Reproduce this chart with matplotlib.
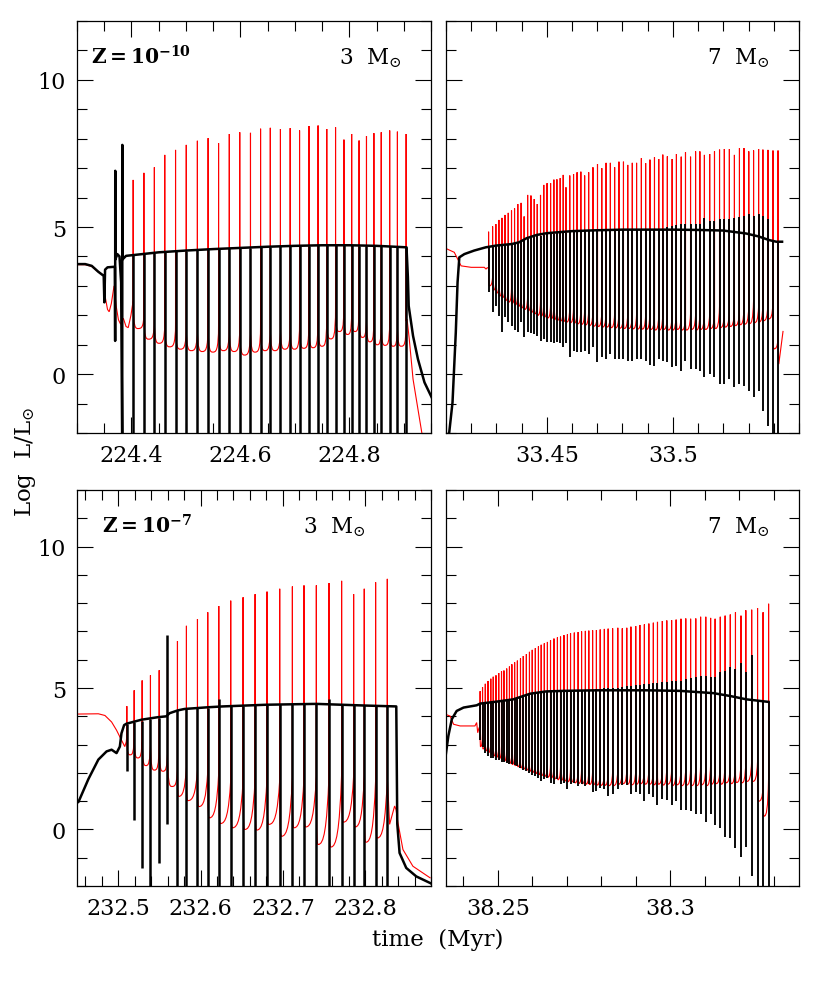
import matplotlib
matplotlib.use("Agg")
import matplotlib.pyplot as plt
from matplotlib.path import Path
from matplotlib.patches import PathPatch
from matplotlib.ticker import MultipleLocator, FormatStrFormatter

plt.rcParams["font.family"] = ["DejaVu Serif"]
plt.rcParams["mathtext.fontset"] = "dejavuserif"

# ---------------- Z=1e-10, 3 Msun (top left) ----------------
tl_t = [224.4031, 224.4228, 224.4420, 224.4611, 224.4809, 224.5006, 224.5210, 224.5407, 224.5599, 224.5796,
        224.5988, 224.6185, 224.6370, 224.6549, 224.6735, 224.6914, 224.7086, 224.7259, 224.7426, 224.7586,
        224.7747, 224.7901, 224.8043, 224.8179, 224.8315, 224.8451, 224.8586, 224.8741, 224.8883, 224.9043]
tl_he_peak = [6.60, 6.84, 7.03, 7.45, 7.62, 7.79, 7.93, 8.02, 7.85, 8.16,
              8.22, 8.20, 8.34, 8.37, 8.33, 8.36, 8.28, 8.43, 8.45, 8.33,
              8.39, 7.97, 8.16, 7.94, 8.09, 8.19, 8.22, 8.28, 8.24, 8.16]
tl_he_pre = [2.5, 2.1, 1.9, 1.8, 1.75, 1.7, 1.7, 1.7, 1.7, 1.7,
             1.7, 1.7, 1.7, 1.75, 1.75, 1.8, 1.8, 1.85, 1.9, 2.0,
             2.3, 2.4, 2.2, 2.35, 2.1, 1.9, 1.85, 1.85, 1.8, 1.8]
tl_he_trough = [1.55, 1.19, 1.05, 0.93, 0.85, 0.80, 0.77, 0.75, 0.80, 0.77,
                0.65, 0.75, 0.80, 0.80, 0.85, 0.85, 0.88, 0.90, 0.95, 1.20,
                1.45, 1.35, 1.45, 1.25, 1.10, 1.00, 0.98, 0.95, 0.95]
tl_h_top = [4.04, 4.09, 4.12, 4.15, 4.18, 4.20, 4.22, 4.24, 4.26, 4.27,
            4.29, 4.30, 4.32, 4.33, 4.34, 4.35, 4.36, 4.37, 4.38, 4.38,
            4.38, 4.38, 4.38, 4.37, 4.37, 4.36, 4.35, 4.34, 4.33, 4.31]
tl_h_dip = [-2.5, -2.5, -2.5, -2.5, -2.5, -2.5, -2.5, -2.5, -2.5, -2.5,
            -2.5, -2.5, -2.5, -2.5, -2.5, -2.5, -2.5, -2.5, -2.5, -2.5,
            -2.5, -2.5, -2.5, -2.5, -2.5, -2.5, -2.5, -2.5, -2.5, -2.5]
tl_he_head_t = [224.300, 224.315, 224.327, 224.339, 224.349, 224.352, 224.356, 224.359, 224.363,
                224.368, 224.372, 224.376, 224.380, 224.385, 224.390, 224.394, 224.399]
tl_he_head_v = [3.72, 3.72, 3.66, 3.48, 3.36, 2.6, 2.2, 2.12, 2.4, 3.0, 2.3, 1.85, 1.70, 1.9, 1.62, 1.58, 2.0]
tl_he_tail_t = [224.906, 224.910, 224.917, 224.926, 224.933, 224.937]
tl_he_tail_v = [1.87, 1.2, -0.17, -1.19, -1.98, -2.5]
tl_h_t = [224.300, 224.315, 224.327, 224.339, 224.349, 224.3502, 224.3515, 224.356, 224.3695, 224.3700,
          224.3702, 224.3705, 224.374, 224.378, 224.381, 224.3830, 224.3832, 224.3836, 224.390, 224.400,
          224.450, 224.500, 224.550, 224.600, 224.650, 224.700, 224.750, 224.800, 224.850, 224.9050,
          224.9075, 224.909, 224.917, 224.926, 224.938, 224.952]
tl_h_v = [3.74, 3.74, 3.68, 3.48, 3.34, 2.44, 3.55, 3.63, 3.65, 1.13,
          6.91, 3.90, 4.08, 4.00, 3.12, -2.5, 7.79, 3.90, 4.02, 4.04,
          4.14, 4.20, 4.25, 4.29, 4.33, 4.36, 4.38, 4.38, 4.36, 4.31,
          3.3, 2.32, 1.30, 0.51, -0.28, -0.82]

# ---------------- Z=1e-10, 7 Msun (top right) ----------------
tr_t = [33.4269, 33.4285, 33.4298, 33.4310, 33.4322, 33.4334, 33.4347, 33.4360, 33.4372, 33.4385,
        33.4398, 33.4410, 33.4424, 33.4437, 33.4450, 33.4462, 33.4475, 33.4488, 33.4501, 33.4515,
        33.4528, 33.4540, 33.4553, 33.4565, 33.4576, 33.4591, 33.4606, 33.4620, 33.4635, 33.4650,
        33.4666, 33.4683, 33.4701, 33.4718, 33.4735, 33.4752, 33.4769, 33.4786, 33.4804, 33.4821,
        33.4839, 33.4856, 33.4875, 33.4892, 33.4909, 33.4927, 33.4944, 33.4960, 33.4978, 33.4997,
        33.5014, 33.5033, 33.5050, 33.5070, 33.5090, 33.5107, 33.5125, 33.5146, 33.5165, 33.5185,
        33.5204, 33.5224, 33.5244, 33.5264, 33.5282, 33.5301, 33.5320, 33.5340, 33.5357, 33.5377,
        33.5397, 33.5417]
tr_he_peak = [4.84, 5.02, 5.10, 5.24, 5.31, 5.41, 5.48, 5.56, 5.63, 5.78,
              5.82, 5.36, 6.09, 6.07, 5.95, 5.78, 6.09, 6.43, 6.49, 6.49,
              6.61, 6.62, 6.66, 6.77, 6.35, 6.75, 6.80, 6.86, 6.88, 6.75,
              6.86, 7.03, 7.14, 7.00, 7.18, 7.18, 7.03, 7.22, 7.22, 7.11,
              7.18, 7.18, 7.34, 7.17, 7.29, 7.37, 7.31, 7.46, 7.40, 7.31,
              7.48, 7.39, 7.54, 7.39, 7.57, 7.57, 7.45, 7.48, 7.57, 7.63,
              7.65, 7.65, 7.45, 7.68, 7.68, 7.57, 7.60, 7.65, 7.63, 7.62,
              7.60, 7.60]
tr_he_pre = [3.6, 3.3, 3.2, 3.1, 3.05, 3.0, 2.95, 2.9, 2.85, 2.8,
             2.75, 2.7, 2.65, 2.6, 2.55, 2.5, 2.47, 2.44, 2.41, 2.38,
             2.35, 2.33, 2.31, 2.29, 2.27, 2.25, 2.23, 2.21, 2.19, 2.17,
             2.15, 2.13, 2.12, 2.1, 2.1, 2.08, 2.07, 2.06, 2.05, 2.05,
             2.04, 2.03, 2.03, 2.02, 2.1, 2.0, 2.0, 2.05, 2.0, 2.0,
             2.3, 2.0, 2.0, 2.05, 2.0, 2.05, 2.1, 2.05, 2.1, 2.3,
             2.1, 2.15, 2.2, 2.2, 2.25, 2.3, 2.5, 2.3, 2.4, 2.4,
             2.45, 1.2]
tr_he_trough = [3.0, 2.85, 2.75, 2.65, 2.6, 2.5, 2.45, 2.4, 2.35, 2.3,
                2.25, 2.2, 2.15, 2.1, 2.05, 2.0, 1.97, 1.94, 1.91, 1.88,
                1.85, 1.83, 1.81, 1.79, 1.77, 1.75, 1.73, 1.71, 1.69, 1.67,
                1.65, 1.63, 1.62, 1.6, 1.6, 1.58, 1.57, 1.56, 1.55, 1.55,
                1.54, 1.53, 1.53, 1.52, 1.52, 1.5, 1.5, 1.52, 1.5, 1.5,
                1.52, 1.5, 1.5, 1.52, 1.5, 1.52, 1.52, 1.55, 1.55, 1.58,
                1.6, 1.62, 1.65, 1.68, 1.7, 1.72, 1.75, 1.78, 1.82, 1.88,
                0.86]
tr_h_top = [4.34, 4.35, 4.36, 4.37, 4.38, 4.39, 4.40, 4.42, 4.44, 4.46,
            4.50, 4.55, 4.60, 4.63, 4.66, 4.69, 4.71, 4.73, 4.75, 4.76,
            4.77, 4.78, 4.79, 4.80, 4.81, 4.82, 4.83, 4.84, 4.85, 4.86,
            4.87, 4.88, 4.88, 4.89, 4.89, 4.90, 4.90, 4.90, 4.91, 4.91,
            4.91, 4.91, 4.91, 4.91, 4.91, 4.91, 4.91, 4.91, 4.99, 5.02,
            5.07, 5.10, 5.10, 5.10, 5.10, 5.10, 5.29, 5.22, 5.22, 5.27,
            5.27, 5.27, 5.29, 5.33, 5.39, 5.44, 5.39, 5.44, 5.36, 5.27,
            4.53, 4.48]
tr_h_dip = [2.78, 2.12, 2.32, 1.98, 1.42, 1.93, 1.76, 1.64, 1.51, 1.44,
            1.78, 1.25, 1.42, 1.39, 1.38, 1.30, 1.13, 1.19, 1.10, 1.08,
            1.05, 1.08, 1.05, 0.91, 1.05, 0.57, 0.79, 0.74, 0.74, 0.79,
            0.68, 0.91, 0.40, 0.57, 0.51, 0.68, 0.51, 0.51, 0.51, 0.45,
            0.45, 0.51, 0.51, 0.45, 0.31, 0.28, 0.51, 0.45, 0.40, 0.23,
            0.28, 0.11, 0.45, 0.17, 0.17, 0.11, -0.11, 0.0, -0.11, -0.34,
            -0.34, -0.17, -0.45, -0.34, -0.40, -0.57, -0.79, -0.57, -1.25, -1.76,
            -2.5, -2.5]
tr_he_head_t = [33.4100, 33.4133, 33.4153, 33.4160, 33.4200, 33.4252, 33.4259, 33.4264]
tr_he_head_v = [4.27, 4.14, 3.80, 3.68, 3.63, 3.63, 3.57, 3.62]
tr_he_tail_t = [33.5420, 33.5437]
tr_he_tail_v = [0.34, 1.47]
tr_h_t = [33.4105, 33.4113, 33.4126, 33.4139, 33.4146, 33.4153, 33.4173, 33.4212, 33.4258, 33.4300,
          33.4360, 33.4390, 33.4420, 33.4460, 33.4500, 33.4600, 33.4700, 33.4800, 33.4900, 33.5000,
          33.5100, 33.5200, 33.5290, 33.5340, 33.5380, 33.5410, 33.5433]
tr_h_v = [-2.1, -1.98, -0.96, 1.42, 3.12, 3.97, 4.08, 4.20, 4.31, 4.37,
          4.42, 4.48, 4.62, 4.73, 4.79, 4.86, 4.89, 4.91, 4.91, 4.91,
          4.90, 4.88, 4.78, 4.68, 4.56, 4.50, 4.50]

# ---------------- Z=1e-7, 3 Msun (bottom left) ----------------
bl_t = [232.5105, 232.5194, 232.5291, 232.5392, 232.5498, 232.5599, 232.5720, 232.5829, 232.5963, 232.6088,
        232.6222, 232.6367, 232.6517, 232.6663, 232.6808, 232.6962, 232.7116, 232.7257, 232.7407, 232.7561,
        232.7714, 232.7860, 232.7989, 232.8127, 232.8269]
bl_he_peak = [4.36, 4.92, 5.27, 5.45, 5.63, 6.0, 6.66, 7.20, 7.44, 7.68,
              7.90, 8.09, 8.21, 8.32, 8.41, 8.51, 8.59, 8.63, 8.63, 8.71,
              8.79, 8.32, 8.51, 8.74, 8.86]
bl_he_pre = [3.3, 3.5, 3.45, 3.35, 3.25, 3.0, 2.4, 2.2, 2.1, 2.05,
             2.05, 1.75, 1.75, 1.8, 1.85, 1.75, 1.85, 1.85, 1.9, 1.95,
             1.95, 1.9, 1.9, 1.75, 1.85]
bl_he_trough = [2.64, 2.53, 2.26, 2.10, 2.06, 1.52, 1.17, 1.02, 0.81, 0.41,
                0.21, 0.06, 0.0, -0.02, 0.18, -0.24, 0.06, 0.09, -0.53, -0.62,
                0.26, 0.09, -0.45, -0.30]
bl_h_top = [3.74, 3.80, 3.85, 3.90, 3.95, 6.87, 4.21, 4.26, 4.29, 4.31,
            4.62, 4.35, 4.38, 4.40, 4.41, 4.42, 4.43, 4.44, 4.44, 4.60,
            4.43, 4.41, 4.39, 4.37, 4.35]
bl_h_dip = [2.06, 0.33, -1.37, -2.5, -1.18, 0.21, -2.5, -2.5, -2.5, -2.5,
            -2.5, -2.5, -2.5, -2.5, -2.5, -2.5, -2.5, -2.5, -2.5, -2.5,
            -2.5, -2.5, -2.5, -2.5, -2.5]
bl_he_head_t = [232.4500, 232.4759, 232.4839, 232.4920, 232.4980, 232.5040, 232.5080, 232.5098]
bl_he_head_v = [4.08, 4.09, 4.03, 3.80, 3.51, 3.16, 2.93, 3.1]
bl_he_tail_t = [232.8297, 232.8358, 232.8375, 232.8398, 232.8459, 232.8580, 232.8794]
bl_he_tail_v = [0.18, 0.83, 0.7, 0.24, -0.71, -1.30, -1.72]
bl_h_t = [232.4500, 232.4517, 232.4638, 232.4759, 232.4859, 232.4920, 232.4980, 232.5020, 232.5040, 232.5072,
          232.5101, 232.5141, 232.5282, 232.5483, 232.5584, 232.5624, 232.5724, 232.5805, 232.6087, 232.6268,
          232.6800, 232.7407, 232.8014, 232.8378, 232.8390, 232.8418, 232.8499, 232.8621, 232.8794, 232.8800]
bl_h_v = [0.95, 0.97, 1.78, 2.47, 2.76, 2.82, 2.70, 2.93, 3.40, 3.69,
          3.74, 3.77, 3.88, 3.97, 4.00, 4.11, 4.21, 4.26, 4.32, 4.35,
          4.41, 4.44, 4.38, 4.35, 0.2, -0.83, -1.36, -1.66, -1.90, -1.91]

# ---------------- Z=1e-7, 7 Msun (bottom right) ----------------
br_t = [38.2449, 38.2456, 38.2464, 38.2472, 38.2480, 38.2487, 38.2495, 38.2503, 38.2511, 38.2518,
        38.2526, 38.2534, 38.2541, 38.2549, 38.2557, 38.2566, 38.2574, 38.2583, 38.2592, 38.2600,
        38.2609, 38.2618, 38.2626, 38.2635, 38.2644, 38.2653, 38.2663, 38.2673, 38.2682, 38.2692,
        38.2702, 38.2711, 38.2722, 38.2733, 38.2743, 38.2754, 38.2764, 38.2775, 38.2786, 38.2797,
        38.2809, 38.2820, 38.2833, 38.2848, 38.2861, 38.2874, 38.2886, 38.2900, 38.2912, 38.2925,
        38.2938, 38.2951, 38.2963, 38.2977, 38.2990, 38.3004, 38.3017, 38.3031, 38.3045, 38.3059,
        38.3074, 38.3088, 38.3103, 38.3117, 38.3130, 38.3145, 38.3159, 38.3174, 38.3189, 38.3205,
        38.3219, 38.3236, 38.3253, 38.3269, 38.3285]
br_he_peak = [4.89, 5.03, 5.15, 5.25, 5.33, 5.40, 5.45, 5.53, 5.59, 5.62,
              5.69, 5.76, 5.84, 5.91, 5.97, 6.05, 6.13, 6.20, 6.28, 6.35,
              6.41, 6.47, 6.53, 6.58, 6.63, 6.69, 6.75, 6.79, 6.82, 6.87,
              6.90, 6.94, 6.96, 6.98, 7.00, 7.02, 7.03, 7.04, 7.05, 7.07,
              7.09, 7.10, 7.11, 7.13, 7.11, 7.13, 7.17, 7.19, 7.23, 7.25,
              7.28, 7.31, 7.34, 7.37, 7.39, 7.40, 7.42, 7.45, 7.46, 7.45,
              7.46, 7.52, 7.52, 7.48, 7.45, 7.52, 7.56, 7.60, 7.68, 7.56,
              7.75, 7.77, 7.83, 7.68, 7.98]
br_he_pre = [3.6, 3.4, 3.3, 3.22, 3.15, 3.1, 3.05, 3.0, 2.95, 2.9,
             2.86, 2.82, 2.78, 2.74, 2.7, 2.66, 2.62, 2.58, 2.54, 2.5,
             2.46, 2.42, 2.39, 2.36, 2.33, 2.3, 2.27, 2.24, 2.21, 2.19,
             2.17, 2.15, 2.13, 2.11, 2.1, 2.08, 2.07, 2.06, 2.05, 2.05,
             2.04, 2.04, 2.04, 2.1, 2.15, 2.1, 2.2, 2.1, 2.15, 2.2,
             2.1, 2.15, 2.2, 2.1, 2.2, 2.1, 2.15, 2.1, 2.2, 2.15,
             2.2, 2.25, 2.2, 2.3, 2.2, 2.3, 2.35, 2.3, 2.4, 2.35,
             2.4, 2.45, 2.4, 1.5, 1.83]
br_he_trough = [2.93, 2.85, 2.78, 2.72, 2.66, 2.6, 2.55, 2.5, 2.46, 2.42,
                2.38, 2.34, 2.3, 2.26, 2.22, 2.18, 2.14, 2.1, 2.06, 2.02,
                1.98, 1.94, 1.91, 1.88, 1.85, 1.82, 1.79, 1.76, 1.73, 1.71,
                1.69, 1.67, 1.65, 1.63, 1.62, 1.6, 1.59, 1.58, 1.57, 1.56,
                1.56, 1.55, 1.55, 1.6, 1.62, 1.6, 1.58, 1.6, 1.62, 1.6,
                1.6, 1.58, 1.6, 1.57, 1.6, 1.55, 1.58, 1.55, 1.57, 1.55,
                1.55, 1.58, 1.55, 1.6, 1.62, 1.6, 1.65, 1.62, 1.66, 1.65,
                1.7, 1.7, 1.0, 0.47]
br_h_top = [4.45, 4.46, 4.47, 4.48, 4.49, 4.50, 4.51, 4.52, 4.53, 4.55,
            4.56, 4.57, 4.59, 4.62, 4.66, 4.70, 4.74, 4.77, 4.80, 4.82,
            4.84, 4.85, 4.86, 4.87, 4.88, 4.89, 4.89, 4.90, 4.90, 4.90,
            4.91, 4.91, 4.91, 4.91, 4.92, 4.92, 4.92, 4.92, 4.95, 4.98,
            5.00, 5.00, 5.00, 5.00, 5.02, 5.06, 5.06, 5.09, 5.11, 5.14,
            5.14, 5.17, 5.17, 5.21, 5.21, 5.25, 5.25, 5.25, 5.32, 5.35,
            5.40, 5.43, 5.43, 5.40, 5.40, 5.55, 5.60, 5.75, 5.68, 5.90,
            5.55, 6.16, 4.56, 4.53, 4.51]
br_h_dip = [3.16, 2.93, 2.69, 2.58, 2.52, 2.52, 2.46, 2.46, 2.40, 2.40,
            2.35, 2.33, 2.33, 2.29, 2.23, 2.17, 2.12, 2.06, 2.00, 1.94,
            1.89, 1.83, 1.71, 1.77, 1.83, 1.66, 1.60, 1.77, 1.60, 1.66,
            1.43, 1.60, 1.66, 1.54, 1.60, 1.54, 1.60, 1.31, 1.37, 1.48,
            1.43, 1.20, 1.25, 1.43, 1.56, 1.56, 1.25, 1.31, 1.25, 1.02,
            1.25, 1.14, 0.85, 1.08, 1.05, 0.85, 1.02, 0.68, 0.68, 0.64,
            0.56, 0.56, 0.27, 0.56, 0.16, 0.04, -0.25, -0.30, -0.67, -0.99,
            -0.63, -1.63, -2.5, -2.5, -2.5]
br_he_head_t = [38.2349, 38.2362, 38.2372, 38.2391, 38.2434, 38.2439, 38.2442, 38.2446]
br_he_head_v = [4.07, 4.01, 3.72, 3.66, 3.66, 3.78, 3.42, 3.6]
br_he_tail_t = []
br_he_tail_v = []
br_h_t = [38.2349, 38.2357, 38.2367, 38.2381, 38.2401, 38.2439, 38.2449, 38.2497, 38.2545, 38.2594,
          38.2640, 38.2690, 38.2787, 38.2931, 38.3028, 38.3125, 38.3173, 38.3221, 38.3285]
br_h_v = [2.60, 3.31, 3.90, 4.19, 4.31, 4.39, 4.45, 4.52, 4.60, 4.80,
          4.88, 4.90, 4.92, 4.92, 4.90, 4.82, 4.72, 4.60, 4.51]


def he_path(t, pre, peak, trough, head_t, head_v, tail_t, tail_v, frac, sharp):
    # He luminosity: spikes at the pulses, rounded troughs in between
    verts = list(zip(head_t, head_v))
    codes = [Path.MOVETO] + [Path.LINETO] * (len(verts) - 1)
    n = len(t)
    for i in range(n):
        verts += [(t[i], pre[i]), (t[i], peak[i]), (t[i], pre[i])]
        codes += [Path.LINETO] * 3
        if i == n - 1:
            break
        d = t[i + 1] - t[i]
        tm = t[i] + frac[i] * d
        lo = trough[i]
        rise = pre[i + 1] - lo
        k = sharp[i]
        verts += [(t[i], lo), (t[i] + 0.5 * frac[i] * d, lo), (tm, lo)]
        verts += [(tm + 0.5 * (t[i + 1] - tm), lo),
                  (t[i + 1] - (1 - k) * 0.4 * (t[i + 1] - tm), lo + (1 - k) * 0.4 * rise),
                  (t[i + 1], pre[i + 1])]
        codes += [Path.CURVE4] * 6
    verts += list(zip(tail_t, tail_v))
    codes += [Path.LINETO] * len(tail_t)
    return Path(verts, codes)


def draw_panel(ax, t, he_peak, he_pre, he_trough, h_top, h_dip,
               head_t, head_v, tail_t, tail_v, h_t, h_v, frac, sharp, spike_lw):
    path = he_path(t, he_pre, he_peak, he_trough, head_t, head_v, tail_t, tail_v, frac, sharp)
    ax.add_patch(PathPatch(path, fill=False, edgecolor="#ff0000", lw=0.8, zorder=2))
    ax.plot(h_t, h_v, color="black", lw=1.8, zorder=3, solid_joinstyle="round")
    ax.vlines(t, h_dip, h_top, color="black", lw=spike_lw, zorder=3)


def style(ax, xlim, major, minor, ylabels=True):
    ax.set_xlim(*xlim)
    ax.set_ylim(-2, 12)
    ax.set_xticks(major)
    ax.xaxis.set_minor_locator(MultipleLocator(minor))
    ax.xaxis.set_major_formatter(FormatStrFormatter("%g"))
    ax.yaxis.set_major_locator(MultipleLocator(5))
    ax.yaxis.set_minor_locator(MultipleLocator(1))
    ax.tick_params(which="both", direction="in", top=True, right=True,
                   width=0.8, labelsize=16, pad=8, colors="black")
    ax.tick_params(which="major", length=11.5)
    ax.tick_params(which="minor", length=7)
    if not ylabels:
        ax.tick_params(labelleft=False)
    for s in ax.spines.values():
        s.set_linewidth(0.9)


fig = plt.figure(figsize=(8.3, 10.04), dpi=100)
ax_tl = fig.add_axes([0.0928, 0.5677, 0.4265, 0.4104])
ax_tr = fig.add_axes([0.5373, 0.5677, 0.4253, 0.4104])
ax_bl = fig.add_axes([0.0928, 0.1165, 0.4265, 0.3944])
ax_br = fig.add_axes([0.5373, 0.1165, 0.4253, 0.3944])

draw_panel(ax_tl, tl_t, tl_he_peak, tl_he_pre, tl_he_trough, tl_h_top, tl_h_dip,
           tl_he_head_t, tl_he_head_v, tl_he_tail_t, tl_he_tail_v, tl_h_t, tl_h_v,
           [0.45] * 29, [1.0] * 29, 1.8)
draw_panel(ax_tr, tr_t, tr_he_peak, tr_he_pre, tr_he_trough, tr_h_top, tr_h_dip,
           tr_he_head_t, tr_he_head_v, tr_he_tail_t, tr_he_tail_v, tr_h_t, tr_h_v,
           [0.2] * 71, [0.6] * 71, 1.35)
draw_panel(ax_bl, bl_t, bl_he_peak, bl_he_pre, bl_he_trough, bl_h_top, bl_h_dip,
           bl_he_head_t, bl_he_head_v, bl_he_tail_t, bl_he_tail_v, bl_h_t, bl_h_v,
           [0.45] * 6 + [0.15] * 18, [1.0] * 6 + [0.5] * 18, 1.8)
draw_panel(ax_br, br_t, br_he_peak, br_he_pre, br_he_trough, br_h_top, br_h_dip,
           br_he_head_t, br_he_head_v, br_he_tail_t, br_he_tail_v, br_h_t, br_h_v,
           [0.2] * 74, [0.6] * 74, 1.35)

style(ax_tl, (224.3, 224.95), [224.4, 224.6, 224.8], 0.05)
style(ax_tr, (33.41, 33.55), [33.45, 33.5], 0.01, ylabels=False)
style(ax_bl, (232.45, 232.88), [232.5, 232.6, 232.7, 232.8], 0.02)
style(ax_br, (38.235, 38.3373), [38.25, 38.3], 0.01, ylabels=False)

ax_tl.text(0.04, 0.896, r"$\mathbf{Z=10^{-10}}$", transform=ax_tl.transAxes,
           fontsize=14.5, ha="left", va="baseline")
ax_tl.text(0.918, 0.896, r"3  M$_{\odot}$", transform=ax_tl.transAxes,
           fontsize=15.5, ha="right", va="baseline")
ax_tr.text(0.918, 0.896, r"7  M$_{\odot}$", transform=ax_tr.transAxes,
           fontsize=15.5, ha="right", va="baseline")
ax_bl.text(0.07, 0.894, r"$\mathbf{Z=10^{-7}}$", transform=ax_bl.transAxes,
           fontsize=14.5, ha="left", va="baseline")
ax_bl.text(0.814, 0.894, r"3  M$_{\odot}$", transform=ax_bl.transAxes,
           fontsize=15.5, ha="right", va="baseline")
ax_br.text(0.918, 0.894, r"7  M$_{\odot}$", transform=ax_br.transAxes,
           fontsize=15.5, ha="right", va="baseline")

fig.text(25 / 830, 1 - 462 / 1004, r"Log  L/L$_{\odot}$", rotation=90,
         ha="center", va="center", fontsize=16.5)
fig.text(438 / 830, 1 - 940 / 1004, "time  (Myr)", ha="center", va="center", fontsize=16.5)

fig.savefig("out.png", dpi=100)
plt.close(fig)
